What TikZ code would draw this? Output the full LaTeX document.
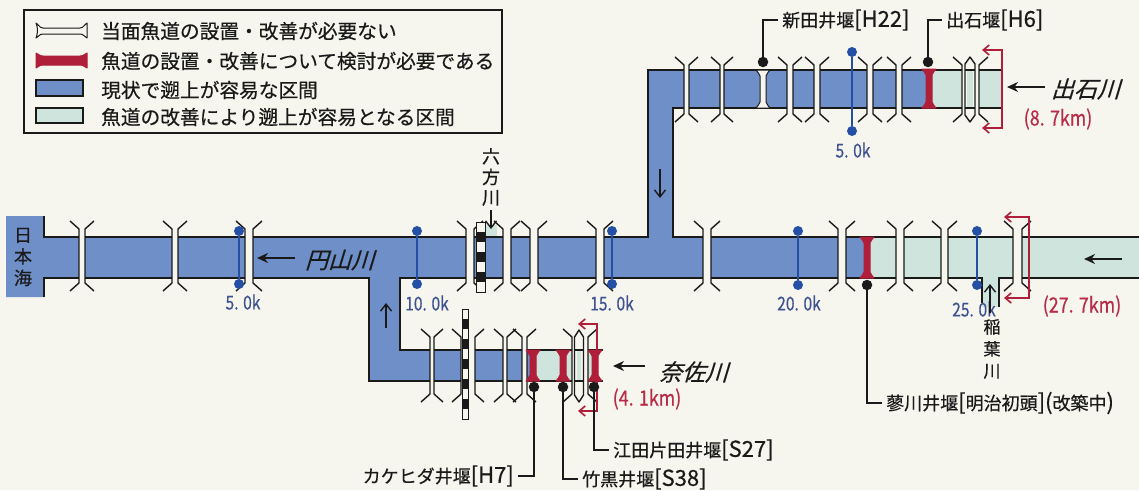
\documentclass[tikz,border=0pt]{standalone}
\usepackage{fontspec}
\setmainfont[FakeBold=0.5]{Noto Sans CJK JP}
\usetikzlibrary{arrows.meta,calc}
\definecolor{paper}{HTML}{F6F5EE}
\definecolor{riverblue}{HTML}{6F8FC9}
\definecolor{riverlight}{HTML}{CFE4DC}
\definecolor{weirred}{HTML}{B01F3A}
\definecolor{kmblue}{HTML}{2350A5}
\definecolor{kmtext}{HTML}{3D5290}
\definecolor{inkline}{HTML}{1A1A1A}
\definecolor{redtext}{HTML}{B82C48}
\newcommand{\fs}[1]{\fontsize{#1}{#1}\selectfont}
\newcommand{\ltn}[1]{{\fontsize{22}{22}\selectfont #1}}
\tikzset{
 riverline/.style={draw=inkline,line width=1.8pt},
 bridgeline/.style={draw=inkline,line width=1.4pt,line join=round},
 kmdot/.style={circle,fill=kmblue,inner sep=0pt,minimum size=10pt},
 blackdot/.style={circle,fill=inkline,inner sep=0pt,minimum size=10.5pt},
 kmline/.style={draw=kmblue,line width=1.5pt},
 leader/.style={draw=inkline,line width=1.2pt},
 lab/.style={font=\fs{18},text=inkline,inner sep=4pt},
 kmlab/.style={font=\fs{19},text=kmtext,xscale=.82,inner sep=0pt},
 redlab/.style={font=\fs{21},text=redtext,xscale=.85,inner sep=0pt},
 rivername/.style={font=\fs{23},text=inkline,xslant=.3,inner sep=0pt},
 legtext/.style={font=\fs{19.7},text=inkline,anchor=west,inner sep=0pt},
 vtext/.style={align=center,text=inkline,inner sep=0pt},
 flowsolid/.style={draw=inkline,line width=1.7pt,-{Stealth[length=11pt,width=10pt]}},
 flowopen/.style={draw=inkline,line width=1.4pt,-{Straight Barb[length=7pt,width=11pt]}},
 redbr/.style={draw=weirred,line width=1.6pt,{Straight Barb[length=6pt,width=10pt]}-{Straight Barb[length=6pt,width=10pt]}},
}
% bridge: xl, xr, tip top, tip bottom, river top, river bottom
\newcommand{\brg}[6]{%
 \fill[paper] (#1,#5-1) rectangle (#2,#6+1);
 \draw[bridgeline] ({#1-9},#3) -- (#1,{#3+8}) -- (#1,{#4-8}) -- ({#1-9},#4);
 \draw[bridgeline] ({#2+9},#3) -- (#2,{#3+8}) -- (#2,{#4-8}) -- ({#2+9},#4);
}
\newcommand{\mb}[2]{\brg{#1}{#2}{221}{291}{237}{278}}
\newcommand{\ub}[2]{\brg{#1}{#2}{57}{122}{70}{108}}
\newcommand{\lb}[2]{\brg{#1}{#2}{329}{402}{350}{381}}
% weir (vertical): x, top, bottom, fill, outline
\newcommand{\weir}[5]{%
 \begin{scope}[shift={(#1,0)}]
 \path[fill=#4,draw=#5,line width=1pt,line join=round]
  (-7,#2) -- (7,#2) .. controls (6,{#2+3}) and (3,{#2+3}) .. (3,{#2+6})
  -- (3,{#3-6}) .. controls (3,{#3-3}) and (6,{#3-3}) .. (7,#3)
  -- (-7,#3) .. controls (-6,{#3-3}) and (-3,{#3-3}) .. (-3,{#3-6})
  -- (-3,{#2+6}) .. controls (-3,{#2+3}) and (-6,{#2+3}) .. (-7,#2) -- cycle;
 \end{scope}}
% lens between the two lines of a bridge: x, half width, top, bottom
\newcommand{\hexa}[4]{%
 \path[fill=paper,draw=inkline,line width=1.4pt,line join=round]
  (#1,#3) -- ({#1+#2},{#3+7}) -- ({#1+#2},{#4-7}) -- (#1,#4) -- ({#1-#2},{#4-7}) -- ({#1-#2},{#3+7}) -- cycle;}
\newcommand{\flow}[6]{\coordinate (#1s) at (#3,#4); \coordinate (#1e) at (#5,#6); \draw[#2] (#1s) -- (#1e);}
\begin{document}
\begin{tikzpicture}[x=1pt,y=-1pt]
\useasboundingbox (0,0) rectangle (1139,490);
\fill[paper] (0,0) rectangle (1139,490);
% water
\fill[riverblue] (6,216) -- (44,216) -- (44,237) -- (648,237) -- (648,70) -- (929,70) -- (929,108) -- (673,108) -- (673,237) -- (867,237) -- (867,278) -- (400,278) -- (400,350) -- (533,350) -- (533,381) -- (369,381) -- (369,278) -- (44,278) -- (44,297) -- (6,297) -- cycle;
\fill[riverlight] (929,70) rectangle (1002,108);
\fill[riverlight] (533,350) rectangle (597,381);
\fill[riverlight] (867,237) rectangle (1139,278);
\fill[riverlight] (982,278) rectangle (999,307);
\fill[riverlight] (486,225) rectangle (497,237);
% banks
\draw[riverline] (44,216) -- (44,237) -- (648,237) -- (648,70) -- (1002,70);
\draw[riverline] (1002,108) -- (673,108) -- (673,237) -- (1139,237);
\draw[riverline] (44,297) -- (44,278) -- (369,278) -- (369,381) -- (603,381);
\draw[riverline] (603,350) -- (400,350) -- (400,278) -- (982,278) -- (982,303);
\draw[riverline] (999,307) -- (999,278) -- (1139,278);
% main river bridges
\mb{79}{85}\mb{172}{178}\mb{245}{253}\mb{466}{474}\mb{503}{511}\mb{530}{538}\mb{596}{604}\mb{703}{711}\mb{838}{846}\mb{896}{904}\mb{941}{948}\mb{1013}{1022}
% upper river bridges
\ub{684}{689}\ub{720}{724}\ub{787}{793}\ub{814}{820}\ub{867}{873}\ub{896}{902}\ub{962}{979}
\hexa{970}{5}{57}{122}
\fill[riverlight] (967,71) rectangle (973,107);
\draw[riverline] (965,70) -- (975,70) (965,108) -- (975,108);
% lower river bridges
\lb{430}{434}\lb{461}{475}\lb{503}{507}\lb{522}{527}\lb{572}{588}
\hexa{579}{4.5}{330}{402}
\fill[riverlight] (577,351) rectangle (581,380);
\draw[riverline] (574,350) -- (584,350) (574,381) -- (584,381);
% checker bars
\fill[paper,draw=inkline,line width=1pt] (476,222) rectangle (485,292);
\foreach \yy in {232,252,272} \fill[inkline] (476,\yy) rectangle (485,{\yy+10});
\fill[paper,draw=inkline,line width=1pt] (462,309) rectangle (468,419);
\foreach \yy in {319,339,359,379,399} \fill[inkline] (462,\yy) rectangle (468,{\yy+10});
% weirs
\weir{763}{70}{108}{paper}{inkline}
\weir{929}{69}{108}{weirred}{weirred}
\weir{867}{237}{278}{weirred}{weirred}
\weir{533}{350}{381}{weirred}{weirred}
\weir{563}{350}{381}{weirred}{weirred}
\weir{595}{350}{381}{weirred}{weirred}
% distance marks
\node[kmdot] (k5a) at (239,231) {}; \node[kmdot] (k5b) at (239,284) {}; \draw[kmline] (k5a) -- (k5b);
\node[kmdot] (k10a) at (417,231) {}; \node[kmdot] (k10b) at (417,284) {}; \draw[kmline] (k10a) -- (k10b);
\node[kmdot] (k15a) at (612,231) {}; \node[kmdot] (k15b) at (612,284) {}; \draw[kmline] (k15a) -- (k15b);
\node[kmdot] (k20a) at (798,231) {}; \node[kmdot] (k20b) at (798,285) {}; \draw[kmline] (k20a) -- (k20b);
\node[kmdot] (k25a) at (977,231) {}; \node[kmdot] (k25b) at (977,285) {}; \draw[kmline] (k25a) -- (k25b);
\node[kmdot] (u5a) at (852,52) {}; \node[kmdot] (u5b) at (852,131) {}; \draw[kmline] (u5a) -- (u5b);
\node[kmlab] (t5) at (243,302) {5. 0k};
\node[kmlab] (t10) at (427,303) {10. 0k};
\node[kmlab] (t15) at (612,303) {15. 0k};
\node[kmlab] (t20) at (799,303) {20. 0k};
\node[kmlab] (t25) at (974,309) {25. 0k};
\node[kmlab] (tu5) at (853,150) {5. 0k};
% flows
\flow{fa}{flowsolid}{295}{258}{257}{258}
\flow{fb}{flowsolid}{1122}{259}{1084}{259}
\flow{fc}{flowsolid}{1045}{87}{1007}{87}
\flow{fd}{flowsolid}{645}{366}{613}{366}
\flow{fe}{flowopen}{660}{169}{660}{198}
\flow{ff}{flowopen}{386}{328}{386}{303}
\flow{fg}{flowopen}{491}{210}{491}{229}
\flow{fh}{flowopen}{990}{313}{990}{284}
% red reach brackets
\coordinate (ra) at (982,50); \coordinate (rb) at (982,128); \draw[redbr] (ra) -- (1002,50) -- (1002,128) -- (rb);
\coordinate (rc) at (1004,217); \coordinate (rd) at (1004,298); \draw[redbr] (rc) -- (1029,217) -- (1029,298) -- (rd);
\coordinate (re) at (578,324); \coordinate (rf) at (578,411); \draw[redbr] (re) -- (597,324) -- (597,411) -- (rf);
% weir labels
\node[blackdot] (d1) at (763,62) {};
\node[blackdot] (d2) at (928,62) {};
\node[blackdot] (d3) at (867,285) {};
\node[blackdot] (d4) at (534,387) {};
\node[blackdot] (d5) at (563,387) {};
\node[blackdot] (d6) at (594,387) {};
\node[lab,anchor=west] (w1) at (778,20) {新田井堰\ltn{[H22]}};
\node[lab,anchor=west] (w2) at (942,20) {出石堰\ltn{[H6]}};
\node[lab,anchor=west] (w3) at (882,403) {蓼川井堰\ltn{[}明治初頭\ltn{]}\ltn{(}改築中\ltn{)}};
\node[lab,anchor=east] (w4) at (518,476) {カケヒダ井堰\ltn{[H7]}};
\node[lab,anchor=west] (w5) at (578,479) {竹黒井堰\ltn{[S38]}};
\node[lab,anchor=west] (w6) at (609,450) {江田片田井堰\ltn{[S27]}};
\draw[leader] (d1) |- (w1.west);
\draw[leader] (d2) |- (w2.west);
\draw[leader] (d3) |- (w3.west);
\draw[leader] (d4) |- (w4.east);
\draw[leader] (d5) |- (w5.west);
\draw[leader] (d6) |- (w6.west);
% names
\node[rivername] (n1) at (342,260) {円山川};
\node[rivername] (n2) at (1088,89) {出石川};
\node[rivername] (n3) at (696,372) {奈佐川};
\node[redlab] (r1) at (1082,306) {(27. 7km)};
\node[redlab] (r2) at (1058,119) {(8. 7km)};
\node[redlab] (r3) at (647,399) {(4. 1km)};
\node[vtext,font=\fontsize{18}{21.5}\selectfont] (sea) at (23,257) {日\\本\\海};
\node[vtext,font=\fontsize{18}{20.5}\selectfont] (rk) at (491,177) {六\\方\\川};
\node[vtext,font=\fontsize{17}{22}\selectfont] (ina) at (992,349) {稲\\葉\\川};
% legend
\draw[fill=paper,draw=inkline,line width=1.8pt] (24,10) rectangle (502,133);
\path[fill=paper,draw=inkline,line width=1pt,line join=round]
 (36,23) .. controls (39,24) and (39,28) .. (43,28) -- (80,28) .. controls (84,28) and (84,24) .. (87,23)
 -- (87,38) .. controls (84,37) and (84,34) .. (80,34) -- (43,34) .. controls (39,34) and (39,37) .. (36,38)
 .. controls (38,33) and (38,28) .. (36,23) -- cycle;
\path[fill=weirred,draw=weirred,line width=1pt,line join=round]
 (36,53) .. controls (39,54) and (39,56) .. (43,56) -- (80,56) .. controls (84,56) and (84,54) .. (87,53)
 -- (87,68) .. controls (84,67) and (84,65) .. (80,65) -- (43,65) .. controls (39,65) and (39,67) .. (36,68) -- cycle;
\fill[riverblue,draw=inkline,line width=1.2pt] (36,80) rectangle (83,96);
\fill[riverlight,draw=inkline,line width=1.2pt] (36,108) rectangle (83,123);
\node[legtext] (l1) at (101,31) {当面魚道の設置・改善が必要ない};
\node[legtext] (l2) at (101,61) {魚道の設置・改善について検討が必要である};
\node[legtext] (l3) at (101,90) {現状で遡上が容易な区間};
\node[legtext] (l4) at (101,117) {魚道の改善により遡上が容易となる区間};
\end{tikzpicture}
\end{document}
